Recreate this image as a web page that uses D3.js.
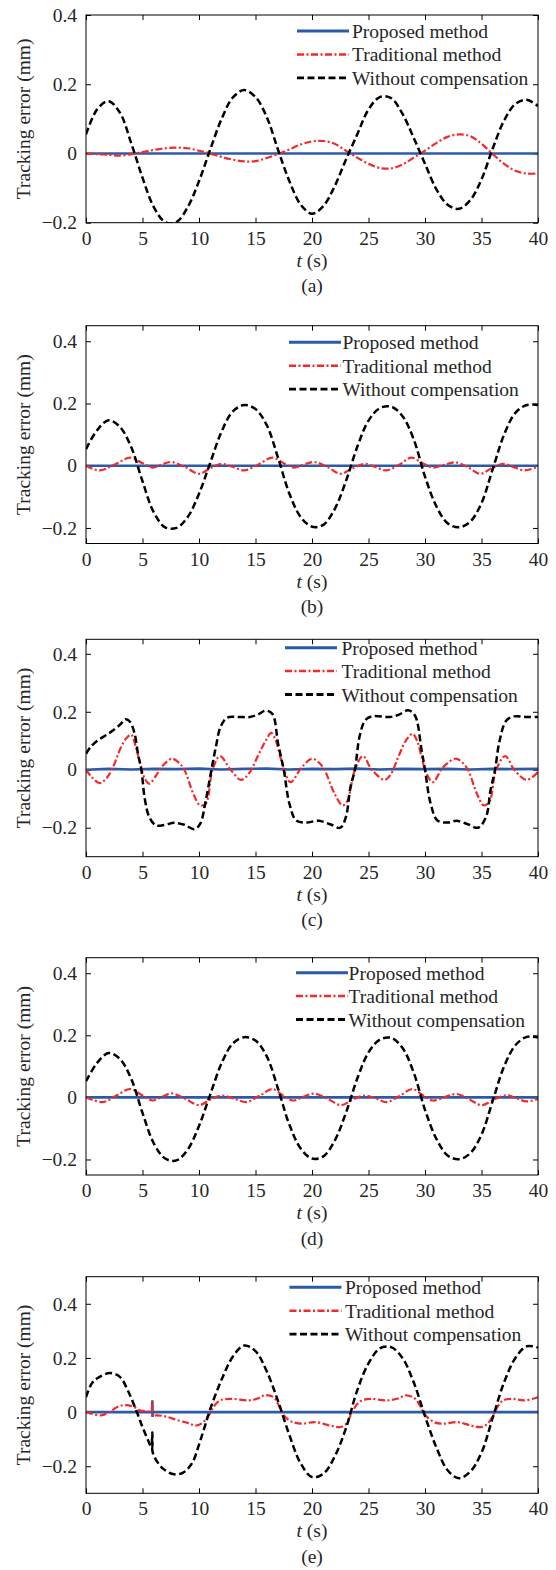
<!DOCTYPE html>
<html>
<head>
<meta charset="utf-8">
<script src="https://cdn.jsdelivr.net/npm/d3@7"></script>
<style>
  body { margin: 0; background: #fff; }
  svg { display: block; }
  text { font-family: "Liberation Serif", "Times New Roman", serif; fill: #262626; }
</style>
</head>
<body>
<svg id="chart" width="556" height="1570"></svg>
<script>
// ---- data: [t (s), tracking error (mm)] ----
const seriesNames = ["Proposed method", "Traditional method", "Without compensation"];
const panelLabels = ["(a)", "(b)", "(c)", "(d)", "(e)"];
const xTicks = [0, 5, 10, 15, 20, 25, 30, 35, 40];
const yDomains = [[-0.2, 0.4], [-0.25, 0.45], [-0.3, 0.45], [-0.25, 0.45], [-0.3, 0.5]];
const yTicks = [[-0.2, 0, 0.2, 0.4], [-0.2, 0, 0.2, 0.4], [-0.2, 0, 0.2, 0.4], [-0.2, 0, 0.2, 0.4], [-0.2, 0, 0.2, 0.4]];

// (a)
const aProposed = [[0, 0], [10, 0], [20, 0], [30, 0], [40, 0]];
const aTraditional = [[0,0],[1,-0.002],[2,-0.004],[3,-0.006],[4,-0.002],[5,0.004],[6,0.01],[7,0.015],[8,0.017],[9,0.015],[10,0.008],[11,0],[12,-0.01],[13,-0.018],[14,-0.023],[15,-0.022],[16,-0.013],[17,-0.002],[18,0.012],[19,0.026],[20,0.035],[21,0.036],[22,0.028],[23,0.008],[24,-0.012],[25,-0.03],[26,-0.042],[27,-0.043],[28,-0.032],[29,-0.012],[30,0.008],[31,0.03],[32,0.048],[33,0.055],[34,0.05],[35,0.028],[36,-0.002],[37,-0.03],[38,-0.05],[39,-0.058],[40,-0.058]];
const aWithout = [[0,0.055],[1,0.128],[2,0.151],[3,0.118],[4,0.03],[5,-0.07],[6,-0.155],[7,-0.198],[8,-0.198],[9,-0.155],[10,-0.08],[11,0.012],[12,0.1],[13,0.162],[14,0.183],[15,0.163],[16,0.105],[17,0.01],[18,-0.08],[19,-0.148],[20,-0.174],[21,-0.152],[22,-0.095],[23,-0.018],[24,0.055],[25,0.127],[26,0.163],[27,0.16],[28,0.115],[29,0.045],[30,-0.03],[31,-0.103],[32,-0.148],[33,-0.16],[34,-0.135],[35,-0.075],[36,0.015],[37,0.095],[38,0.143],[39,0.155],[40,0.137]];

// (b)
const bProposed = [[0, 0], [10, 0], [20, 0], [30, 0], [40, 0]];
const bTraditional = [[0,0],[1.2,-0.015],[2.6,0.005],[3.9,0.026],[5,0.008],[5.9,-0.006],[6.7,0.004],[7.5,0.012],[8.8,-0.005],[10,-0.026],[11,-0.008],[12,0.006],[13,-0.004],[14,-0.015],[15.3,0.005],[16.5,0.026],[17.5,0.008],[18.4,-0.006],[19.3,0.004],[20.2,0.012],[21.4,-0.005],[22.5,-0.026],[23.6,-0.008],[24.7,0.006],[25.6,-0.004],[26.6,-0.015],[27.8,0.005],[28.8,0.026],[29.8,0.008],[30.7,-0.006],[31.7,0.003],[32.7,0.011],[33.8,-0.005],[34.9,-0.026],[35.9,-0.008],[36.9,0.006],[37.8,-0.004],[38.8,-0.015],[40,-0.003]];
const bWithout = [[0,0.053],[1,0.115],[2,0.146],[3,0.125],[4,0.06],[5,-0.05],[6,-0.15],[7,-0.198],[8,-0.2],[9,-0.165],[10,-0.09],[11,0.01],[12,0.11],[13,0.175],[14,0.195],[15,0.182],[16,0.13],[17,0.025],[18,-0.09],[19,-0.165],[20,-0.196],[21,-0.19],[22,-0.14],[23,-0.05],[24,0.06],[25,0.145],[26,0.185],[27,0.19],[28,0.16],[29,0.085],[30,-0.035],[31,-0.13],[32,-0.185],[33,-0.198],[34,-0.18],[35,-0.12],[36,-0.01],[37,0.1],[38,0.17],[39,0.195],[40,0.195]];

// (c)
const cProposed = [[0,0],[2,0.003],[4,0.001],[6,0.003],[8,0.002],[10,0.004],[12,0.001],[14,0.003],[16,0.004],[18,0.001],[20,0.003],[22,0.002],[24,0.004],[26,0.001],[28,0.003],[30,0.002],[32,0.003],[34,0.001],[36,0.003],[38,0.002],[40,0.003]];
const cTraditional = [[0,0],[0.5,-0.025],[1.2,-0.046],[1.8,-0.03],[2.4,0.01],[3.1,0.078],[3.6,0.11],[4,0.121],[4.4,0.08],[4.8,0.02],[5.2,-0.03],[5.6,-0.048],[6.2,-0.02],[6.7,0.01],[7.6,0.038],[8.2,0.025],[8.7,0],[9.5,-0.083],[10.1,-0.123],[10.6,-0.117],[11.2,0],[11.85,0.047],[12.8,0],[13.7,-0.035],[14.4,-0.014],[15.3,0.055],[15.9,0.1],[16.4,0.127],[16.8,0.1],[17.2,0.044],[17.6,-0.01],[18.1,-0.043],[19.1,0.009],[20,0.038],[20.6,0.025],[21.1,0],[22,-0.083],[22.7,-0.123],[23.1,-0.11],[23.8,0],[24.5,0.047],[25.3,0],[26.4,-0.035],[26.9,-0.02],[27.7,0.05],[28.3,0.1],[28.9,0.124],[29.3,0.1],[29.7,0.044],[30.1,-0.01],[30.7,-0.043],[31.6,0.009],[32.7,0.038],[33.3,0.025],[33.8,0],[34.6,-0.083],[35.2,-0.123],[35.7,-0.11],[36.3,0],[37.1,0.047],[37.9,0],[39,-0.035],[40,-0.008]];
const cWithout = [[0,0.055],[0.4,0.078],[1,0.1],[2,0.125],[3,0.155],[3.5,0.174],[3.9,0.165],[4.3,0.125],[4.6,0.055],[4.9,0],[5.2,-0.1],[5.6,-0.163],[6.2,-0.192],[7,-0.19],[7.8,-0.183],[8.7,-0.19],[9.6,-0.205],[10.1,-0.187],[10.6,-0.106],[11.1,0],[11.5,0.08],[11.9,0.147],[12.5,0.18],[13.5,0.182],[14.5,0.182],[15.2,0.19],[15.9,0.204],[16.5,0.192],[17,0.09],[17.5,0],[18,-0.117],[18.6,-0.175],[19.5,-0.182],[20.6,-0.176],[21.6,-0.188],[22.5,-0.2],[23,-0.163],[23.4,-0.06],[23.8,0],[24.2,0.113],[24.7,0.17],[25.3,0.184],[26.9,0.182],[27.7,0.19],[28.5,0.205],[29.1,0.188],[29.7,0.067],[30,0],[30.5,-0.117],[31.1,-0.175],[32,-0.182],[32.8,-0.176],[33.8,-0.188],[34.7,-0.2],[35.4,-0.163],[35.8,-0.07],[36.2,0],[36.6,0.1],[37.2,0.17],[37.9,0.184],[39,0.182],[40,0.182]];

// (d)
const dProposed = [[0, 0], [10, 0], [20, 0], [30, 0], [40, 0]];
const dTraditional = [[0,0],[1.5,-0.015],[2.7,0.006],[3.9,0.027],[5,0.006],[5.9,-0.01],[6.8,0.003],[7.6,0.013],[8.8,-0.005],[10,-0.025],[11,-0.007],[12,0.006],[13.1,-0.004],[14.2,-0.015],[15.4,0.006],[16.5,0.027],[17.4,0.007],[18.3,-0.01],[19.3,0.003],[20.2,0.012],[21.4,-0.005],[22.6,-0.025],[23.6,-0.007],[24.7,0.006],[25.7,-0.004],[26.6,-0.015],[27.8,0.006],[28.9,0.027],[29.8,0.007],[30.7,-0.01],[31.8,0.002],[32.8,0.011],[33.9,-0.006],[35,-0.025],[36.1,-0.007],[37.2,0.007],[38.1,-0.003],[39,-0.013],[40,-0.005]];
const dWithout = [[0,0.052],[1,0.112],[2,0.143],[3,0.124],[4,0.06],[5,-0.05],[6,-0.148],[7,-0.197],[8,-0.203],[9,-0.168],[10,-0.092],[11,0.01],[12,0.11],[13,0.174],[14,0.194],[15,0.183],[16,0.132],[17,0.027],[18,-0.088],[19,-0.165],[20,-0.197],[21,-0.19],[22,-0.14],[23,-0.05],[24,0.06],[25,0.145],[26,0.186],[27,0.192],[28,0.16],[29,0.08],[30,-0.04],[31,-0.133],[32,-0.187],[33,-0.199],[34,-0.18],[35,-0.12],[36,-0.01],[37,0.1],[38,0.168],[39,0.195],[40,0.193]];

// (e)
const eProposed = [[0,0],[5.85,0],[5.87,0.043],[5.89,-0.018],[5.91,0],[40,0]];
const eTraditional = [[0,0],[1.3,-0.012],[2,-0.002],[2.8,0.02],[3.5,0.026],[4.2,0.02],[4.8,0.006],[5.4,0.003],[5.8,0.0],[5.87,0.04],[5.9,-0.015],[6.2,-0.012],[7,-0.016],[8.1,-0.03],[9,-0.04],[9.7,-0.05],[10.3,-0.04],[10.9,-0.01],[11.3,0.02],[11.85,0.043],[12.8,0.049],[14.4,0.043],[15.2,0.05],[15.8,0.062],[16.6,0.055],[17,0.03],[17.4,-0.005],[17.8,-0.025],[18.3,-0.037],[19.1,-0.043],[20.3,-0.037],[21.6,-0.05],[22.5,-0.055],[23,-0.045],[23.5,-0.005],[24,0.03],[24.4,0.043],[25.2,0.049],[26.6,0.043],[27.6,0.05],[28.3,0.062],[29.1,0.05],[29.6,0.02],[30,-0.01],[30.8,-0.037],[31.6,-0.043],[32.9,-0.037],[34.1,-0.05],[35,-0.055],[35.6,-0.04],[36.1,-0.005],[36.5,0.025],[36.9,0.043],[37.7,0.049],[38.8,0.043],[40,0.055]];
const eWithout = [[0,0.055],[0.5,0.105],[1,0.125],[2.1,0.144],[3,0.13],[3.7,0.08],[4.5,0],[5,-0.055],[5.5,-0.105],[5.84,-0.135],[5.87,-0.075],[5.91,-0.15],[6.5,-0.195],[7,-0.215],[7.8,-0.23],[8.5,-0.226],[9,-0.21],[9.5,-0.18],[10,-0.12],[10.5,-0.055],[11,0.012],[12,0.12],[13,0.205],[14,0.246],[15,0.225],[16,0.15],[17,0.04],[18,-0.085],[19,-0.19],[20,-0.24],[21,-0.228],[22,-0.165],[23,-0.06],[24,0.08],[25,0.18],[26,0.235],[27,0.24],[28,0.2],[29,0.11],[30,-0.015],[31,-0.13],[32,-0.215],[33,-0.244],[34,-0.22],[35,-0.15],[36,-0.02],[37,0.11],[38,0.2],[39,0.243],[40,0.238]];

const panelSeries = [
    [aProposed, aTraditional, aWithout],
    [bProposed, bTraditional, bWithout],
    [cProposed, cTraditional, cWithout],
    [dProposed, dTraditional, dWithout],
    [eProposed, eTraditional, eWithout]
];

// ---- layout ----
const left = 86, right = 538;
const fontSize = 19.5;
const panels = [
    { top: 15,    bottom: 222.7,  legLine: 297, legText: 352,   legRow: 16 },
    { top: 325.7, bottom: 543.5,  legLine: 289, legText: 342.5, legRow: 16.6 },
    { top: 639.3, bottom: 856.7,  legLine: 285, legText: 341.5, legRow: 8.4 },
    { top: 957.7, bottom: 1175,   legLine: 296, legText: 348.6, legRow: 15 },
    { top: 1276.7, bottom: 1493.3, legLine: 289.5, legText: 345, legRow: 10.6 }
];
const legStep = 23.4, legLen = 52;

const styles = [
    { color: "#2b5ba8", width: 2.6, dash: null, curve: d3.curveLinear },
    { color: "#f22a2a", width: 2.2, dash: "7,2.5,2,2.5", curve: d3.curveCatmullRom.alpha(0.5) },
    { color: "#000000", width: 2.5, dash: "7,3.5", curve: d3.curveCatmullRom.alpha(0.5) }
];

const svg = d3.select("#chart");
const yFmt = d => d === 0 ? "0" : d3.format(".1f")(d);

const x = d3.scaleLinear().domain([0, 40]).range([left, right]);

panels.forEach((p, i) => {
    const y = d3.scaleLinear().domain(yDomains[i]).range([p.bottom, p.top]);
    const g = svg.append("g");

    const clipId = "clip" + i;
    svg.append("clipPath").attr("id", clipId)
        .append("rect")
        .attr("x", left).attr("y", p.top)
        .attr("width", right - left).attr("height", p.bottom - p.top);

    // axes (inward ticks on all four sides)
    g.append("g").attr("transform", `translate(0,${p.bottom})`)
        .call(d3.axisBottom(x).tickValues(xTicks).tickSize(-5).tickPadding(8.2).tickFormat(d3.format("d")));
    g.append("g").attr("transform", `translate(${left},0)`)
        .call(d3.axisLeft(y).tickValues(yTicks[i]).tickSize(-5).tickPadding(9).tickFormat(yFmt));
    g.append("g").attr("transform", `translate(0,${p.top})`)
        .call(d3.axisTop(x).tickValues(xTicks).tickSize(-5).tickFormat(""));
    g.append("g").attr("transform", `translate(${right},0)`)
        .call(d3.axisRight(y).tickValues(yTicks[i]).tickSize(-5).tickFormat(""));
    g.selectAll(".domain").remove();
    g.selectAll(".tick line").attr("stroke", "#000");
    g.selectAll(".tick text").style("font-size", fontSize + "px").attr("fill", "#262626");

    // series
    const plot = g.append("g").attr("clip-path", `url(#${clipId})`);
    panelSeries[i].forEach((data, k) => {
        const s = styles[k];
        const line = d3.line().x(d => x(d[0])).y(d => y(d[1])).curve(s.curve);
        plot.append("path")
            .datum(data)
            .attr("fill", "none")
            .attr("stroke", s.color)
            .attr("stroke-width", s.width)
            .attr("stroke-dasharray", s.dash)
            .attr("d", line);
    });

    // frame
    g.append("rect")
        .attr("x", left).attr("y", p.top)
        .attr("width", right - left).attr("height", p.bottom - p.top)
        .attr("fill", "none").attr("stroke", "#000").attr("stroke-width", 1);

    // legend
    seriesNames.forEach((name, k) => {
        const s = styles[k];
        const ly = p.top + p.legRow + k * legStep;
        g.append("line")
            .attr("x1", p.legLine).attr("x2", p.legLine + legLen)
            .attr("y1", ly).attr("y2", ly)
            .attr("stroke", s.color).attr("stroke-width", s.width + 0.3)
            .attr("stroke-dasharray", s.dash);
        g.append("text")
            .attr("x", p.legText).attr("y", ly + 7)
            .style("font-size", fontSize + "px")
            .text(name);
    });

    // y label
    g.append("text")
        .attr("transform", `translate(30,${(p.top + p.bottom) / 2}) rotate(-90)`)
        .attr("text-anchor", "middle")
        .style("font-size", fontSize + "px")
        .text("Tracking error (mm)");

    // x label
    const xl = g.append("text")
        .attr("x", (left + right) / 2).attr("y", p.bottom + 44)
        .attr("text-anchor", "middle")
        .style("font-size", fontSize + "px");
    xl.append("tspan").style("font-style", "italic").text("t");
    xl.append("tspan").text(" (s)");

    // panel label
    g.append("text")
        .attr("x", (left + right) / 2).attr("y", p.bottom + 69.5)
        .attr("text-anchor", "middle")
        .style("font-size", fontSize + "px")
        .text(panelLabels[i]);
});
</script>
</body>
</html>
